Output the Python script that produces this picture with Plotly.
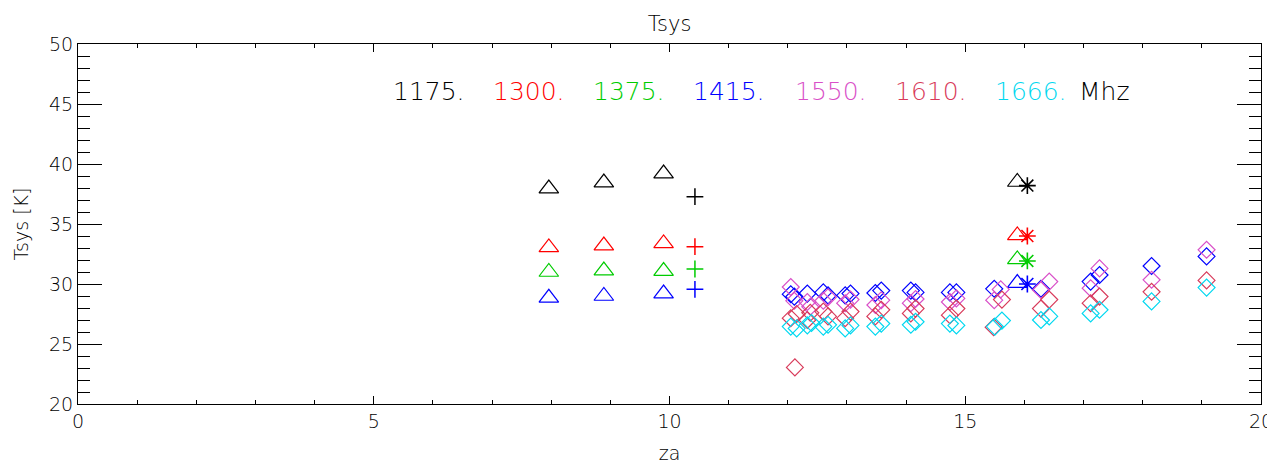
import plotly.graph_objects as go

# ---------------- data ----------------
freqs = ["1175.", "1300.", "1375.", "1415.", "1550.", "1610.", "1666."]
colors = ["#000000", "#ff0000", "#00cc00", "#0000ff", "#d94fc8", "#d83a5a", "#00d8f0"]

# triangles (za, tsys) for 1175,1300,1375,1415
za_tri = [7.96, 8.89, 9.90, 15.88]
tri_1175 = [37.95, 38.45, 39.2, 38.5]
tri_1300 = [33.05, 33.2, 33.38, 34.05]
tri_1375 = [31.0, 31.12, 31.08, 32.05]
tri_1415 = [28.85, 29.0, 29.2, 30.08]

# plus markers
za_plus = [10.43]
plus_1175 = [37.28]
plus_1300 = [33.11]
plus_1375 = [31.25]
plus_1415 = [29.56]

# asterisks
za_star = [16.05]
star_1175 = [38.2]
star_1300 = [34.0]
star_1375 = [31.92]
star_1415 = [30.0]

# diamonds
za_d_1415 = [12.05, 12.11, 12.33, 12.6, 12.68, 12.97, 13.06, 13.48, 13.58, 14.08, 14.16,
             14.74, 14.85, 15.49, 16.28, 17.12, 17.27, 18.15, 19.08]
d_1415 = [29.15, 28.95, 29.2, 29.3, 29.05, 29.05, 29.2, 29.25, 29.45, 29.45, 29.3,
          29.3, 29.3, 29.6, 29.6, 30.2, 30.75, 31.5, 32.3]

za_d_1550 = [12.05, 12.11, 12.33, 12.38, 12.6, 12.68, 12.97, 13.06, 13.48, 13.58, 14.08, 14.16,
             14.74, 14.85, 15.49, 15.6, 16.28, 16.42, 17.12, 17.27, 18.15, 19.08]
d_1550 = [29.75, 28.6, 28.5, 28.1, 28.6, 28.9, 28.4, 28.7, 28.25, 28.65, 28.4, 28.75,
          28.5, 28.8, 28.65, 29.55, 29.5, 30.2, 29.65, 31.3, 30.35, 32.85]

za_d_1610 = [12.05, 12.12, 12.15, 12.33, 12.38, 12.6, 12.68, 12.97, 13.06, 13.48, 13.58,
             14.08, 14.16, 14.74, 14.85, 15.48, 15.62, 16.28, 16.42, 17.12, 17.27, 18.15, 19.08]
d_1610 = [27.15, 23.05, 27.5, 27.0, 27.6, 27.7, 27.3, 27.15, 27.7, 27.3, 27.85,
          27.55, 27.95, 27.4, 27.95, 26.4, 28.7, 27.95, 28.7, 28.4, 28.95, 29.35, 30.3]

za_d_1666 = [12.05, 12.15, 12.33, 12.4, 12.6, 12.68, 12.97, 13.06, 13.48, 13.58, 14.08, 14.16,
             14.74, 14.85, 15.5, 15.62, 16.28, 16.42, 17.12, 17.27, 18.15, 19.08]
d_1666 = [26.45, 26.3, 26.55, 26.75, 26.45, 26.6, 26.3, 26.55, 26.45, 26.7, 26.6, 26.85,
          26.7, 26.55, 26.45, 26.95, 27.0, 27.3, 27.55, 27.85, 28.55, 29.7]

x_ticks = [0, 5, 10, 15, 20]
y_ticks = [20, 25, 30, 35, 40, 45, 50]

# ---------------- figure ----------------
fig = go.Figure()
FONT = "DejaVu Sans"
WT = 200
TXT = "#000000"


def add(x, y, color, symbol, size, lw=1.2):
    fig.add_trace(go.Scatter(
        x=x, y=y, mode="markers", showlegend=False, hoverinfo="x+y",
        marker=dict(symbol=symbol, size=size, color=color, line=dict(width=lw, color=color)),
    ))


tri_sets = [tri_1175, tri_1300, tri_1375, tri_1415]
plus_sets = [plus_1175, plus_1300, plus_1375, plus_1415]
star_sets = [star_1175, star_1300, star_1375, star_1415]
for i in range(4):
    add(za_tri, tri_sets[i], colors[i], "triangle-up-open", 17)
    add(za_plus, plus_sets[i], colors[i], "cross-thin-open", 12, 1.5)
    add(za_star, star_sets[i], colors[i], "asterisk-open", 14, 1.6)

add(za_d_1415, d_1415, colors[3], "diamond-open", 13)
add(za_d_1550, d_1550, colors[4], "diamond-open", 13)
add(za_d_1610, d_1610, colors[5], "diamond-open", 13)
add(za_d_1666, d_1666, colors[6], "diamond-open", 13)

# page has an 8px body margin: shrink the figure so the plot box lands where wanted
OFF = 8
W, H = 1275 - OFF, 464 - OFF
L, R, T, B = 78 - OFF, 14, 44 - OFF, 60
pw = W - L - R
ph = H - T - B

# frequency labels (positions in page pixels)
label_x = [391, 491, 591, 691, 793, 893, 993]
LAB_Y = 91
for lab, col, px in zip(freqs, colors, label_x):
    fig.add_annotation(x=(px - 78) / pw, y=1 - (LAB_Y - 44) / ph, xref="paper", yref="paper",
                       text=lab, showarrow=False, xanchor="left", yanchor="middle",
                       font=dict(family=FONT, size=25, color=col, weight=WT))
fig.add_annotation(x=(1077 - 78) / pw, y=1 - (LAB_Y - 44) / ph, xref="paper", yref="paper",
                   text="Mhz", showarrow=False, xanchor="left", yanchor="middle",
                   font=dict(family=FONT, size=25, color=TXT, weight=WT))

axis_common = dict(
    showline=True, linecolor="black", linewidth=1, mirror="ticks",
    ticks="inside", tickcolor="black", tickwidth=1,
    showgrid=False, zeroline=False, automargin=False,
    tickfont=dict(family=FONT, size=19, color=TXT, weight=WT),
)

fig.update_xaxes(
    range=[0, 20], tickvals=x_ticks, ticktext=[str(v) for v in x_ticks], ticklen=8,
    minor=dict(dtick=1, ticks="inside", ticklen=4, tickcolor="black", showgrid=False),
    title=dict(text="za", font=dict(family=FONT, size=19, color=TXT, weight=WT), standoff=16),
    **axis_common,
)
fig.update_yaxes(
    range=[20, 50], tickvals=y_ticks, ticktext=[str(v) for v in y_ticks], ticklen=24,
    minor=dict(dtick=1, ticks="inside", ticklen=12, tickcolor="black", showgrid=False),
    title=dict(text="Tsys [K]", font=dict(family=FONT, size=19, color=TXT, weight=WT), standoff=15),
    **axis_common,
)

fig.update_layout(
    width=W, height=H,
    margin=dict(l=L, r=R, t=T, b=B, autoexpand=False),
    paper_bgcolor="white", plot_bgcolor="white",
    title=dict(text="Tsys", x=0.5, xref="paper", xanchor="center", y=1 - (24 - OFF) / H,
               yanchor="middle", automargin=False,
               font=dict(family=FONT, size=21, color=TXT, weight=WT)),
)

fig.write_html("out.html")
